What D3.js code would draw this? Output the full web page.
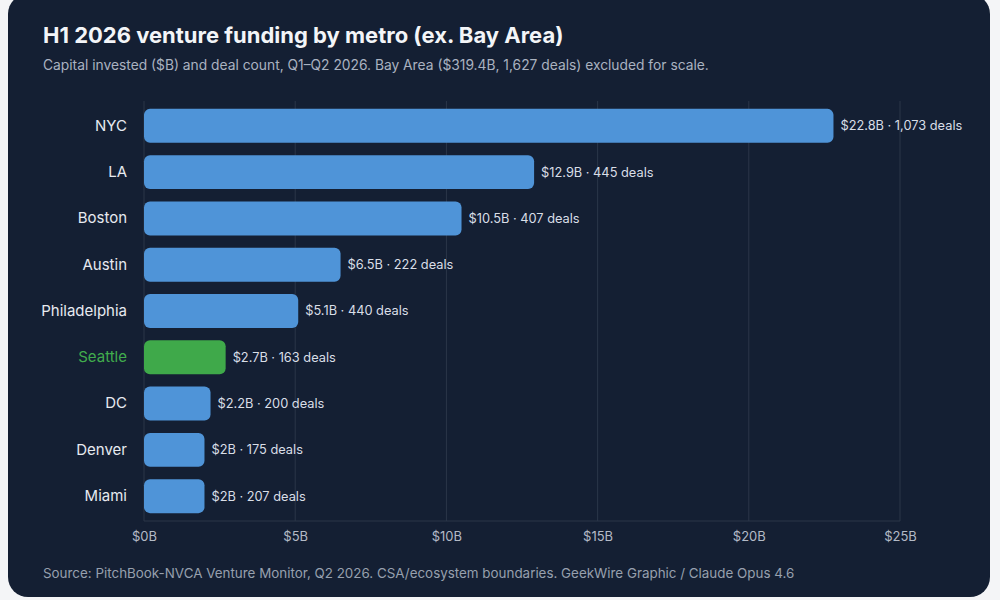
<!DOCTYPE html>
<html>
<head>
<meta charset="utf-8">
<script src="https://cdn.jsdelivr.net/npm/d3@7"></script>
<style>
  html, body { margin: 0; padding: 0; background: #f4f5f7; }
  svg { display: block; font-family: Inter, "Liberation Sans", sans-serif; }
</style>
</head>
<body>
<script>
const metros = ['NYC', 'LA', 'Boston', 'Austin', 'Philadelphia', 'Seattle', 'DC', 'Denver', 'Miami']
const capital = [22.8, 12.9, 10.5, 6.5, 5.1, 2.7, 2.2, 2.0, 2.0]
const deals = [1073, 445, 407, 222, 440, 163, 200, 175, 207]
const xTicks = [0, 5, 10, 15, 20, 25]
const highlight = 'Seattle'

const data = metros.map((m, i) => ({metro: m, capital: capital[i], deals: deals[i]}))

const svg = d3.select('body').append('svg')
  .attr('width', 1000)
  .attr('height', 600)

svg.append('rect')
  .attr('x', 8)
  .attr('y', -6)
  .attr('width', 982)
  .attr('height', 603)
  .attr('rx', 20)
  .attr('fill', '#141f33')

svg.append('text')
  .attr('x', 43)
  .attr('y', 43)
  .attr('fill', '#f3f5f8')
  .attr('font-size', 22)
  .attr('font-weight', 700)
  .text('H1 2026 venture funding by metro (ex. Bay Area)')

svg.append('text')
  .attr('x', 43)
  .attr('y', 70)
  .attr('fill', '#aab2c0')
  .attr('font-size', 13.8)
  .text('Capital invested ($B) and deal count, Q1–Q2 2026. Bay Area ($319.4B, 1,627 deals) excluded for scale.')

svg.append('text')
  .attr('x', 43)
  .attr('y', 578)
  .attr('fill', '#97a0ae')
  .attr('font-size', 13.4)
  .text('Source: PitchBook-NVCA Venture Monitor, Q2 2026. CSA/ecosystem boundaries. GeekWire Graphic / Claude Opus 4.6')

const margin = {top: 101, left: 144}
const width = 756
const height = 420

const x = d3.scaleLinear().domain([0, 25]).range([0, width])
const y = d3.scaleBand().domain(metros).range([0, height]).paddingInner(0.267).paddingOuter(0.17)

const g = svg.append('g').attr('transform', `translate(${margin.left},${margin.top})`)

// grid
g.selectAll('.grid')
  .data(xTicks)
  .enter()
  .append('line')
  .attr('x1', (d) => x(d))
  .attr('x2', (d) => x(d))
  .attr('y1', 0)
  .attr('y2', height)
  .attr('stroke', '#2b3649')
  .attr('stroke-width', 1)

g.append('line')
  .attr('x1', 0)
  .attr('x2', width)
  .attr('y1', height)
  .attr('y2', height)
  .attr('stroke', '#2b3649')

const xAxis = g.append('g')
  .attr('transform', `translate(0,${height})`)
  .call(d3.axisBottom(x).tickValues(xTicks).tickFormat((d) => `$${d}B`).tickSize(0).tickPadding(11))
xAxis.select('.domain').remove()
xAxis.selectAll('text')
  .attr('fill', '#b3bac6')
  .attr('font-size', 13)
  .attr('font-family', 'Inter, "Liberation Sans", sans-serif')

const yAxis = g.append('g')
  .call(d3.axisLeft(y).tickSize(0).tickPadding(17))
yAxis.select('.domain').remove()
yAxis.selectAll('text')
  .attr('fill', (d) => d === highlight ? '#41ad4d' : '#e7eaf0')
  .attr('font-size', 15)
  .attr('font-family', 'Inter, "Liberation Sans", sans-serif')

g.selectAll('.bar')
  .data(data)
  .enter()
  .append('rect')
  .attr('class', 'bar')
  .attr('x', 0)
  .attr('y', (d) => y(d.metro))
  .attr('width', (d) => x(d.capital))
  .attr('height', y.bandwidth())
  .attr('rx', 6)
  .attr('fill', (d) => d.metro === highlight ? '#3fa94a' : '#4f94d8')

const fmt = d3.format(',')
g.selectAll('.value')
  .data(data)
  .enter()
  .append('text')
  .attr('x', (d) => x(d.capital) + 7)
  .attr('y', (d) => y(d.metro) + y.bandwidth() / 2)
  .attr('dy', '0.35em')
  .attr('fill', '#d9dee7')
  .attr('font-size', 12.8)
  .text((d) => `$${d.capital}B · ${fmt(d.deals)} deals`)
</script>
</body>
</html>
